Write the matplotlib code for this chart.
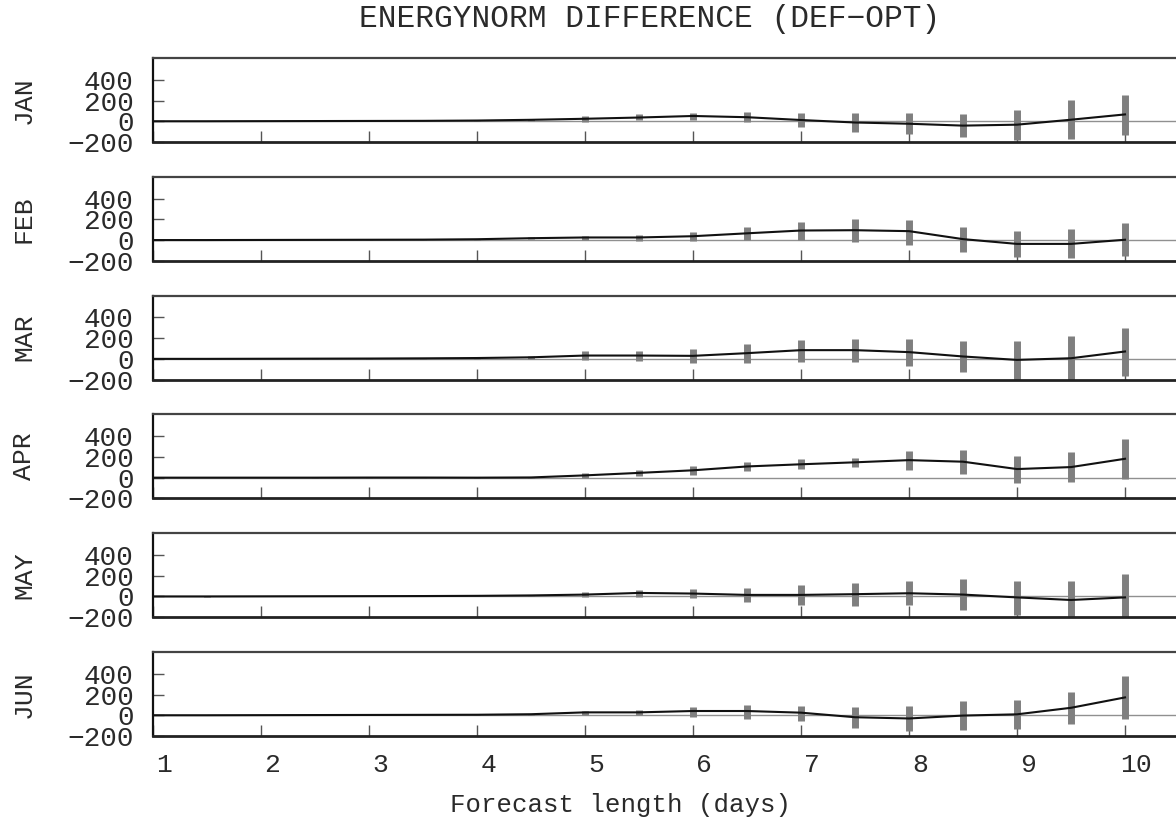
import matplotlib
matplotlib.use("Agg")
import matplotlib.pyplot as plt
import matplotlib.transforms as mtransforms

plt.rcParams['font.family'] = ['Liberation Mono', 'DejaVu Sans Mono']

days = [1, 1.5, 2, 2.5, 3, 3.5, 4, 4.5, 5, 5.5, 6, 6.5, 7, 7.5, 8, 8.5, 9, 9.5, 10]
months = ["JAN", "FEB", "MAR", "APR", "MAY", "JUN"]

jan_mean = [0, 0, 1, 2, 3, 4, 7, 14, 24, 36, 51, 39, 12, -12, -24, -42, -33, 15, 66]
jan_hi = [0, 1, 2, 4, 5, 7, 12, 24, 51, 66, 84, 87, 75, 75, 75, 66, 111, 204, 258]
jan_lo = [0, -1, 0, 0, 1, 1, 2, 4, -3, 9, 9, -6, -54, -99, -120, -153, -180, -174, -129]

feb_mean = [0, 0, 1, 2, 3, 4, 8, 18, 25, 25, 37, 65, 92, 95, 86, 9, -37, -37, 3]
feb_hi = [0, 1, 2, 4, 6, 8, 14, 28, 43, 52, 77, 123, 173, 200, 197, 129, 92, 102, 166]
feb_lo = [0, -1, 0, 0, 0, 0, 2, 8, 0, -6, -9, -3, 3, -15, -52, -111, -163, -172, -157]

mar_mean = [0, 0, 1, 2, 3, 5, 8, 15, 32, 32, 29, 55, 84, 84, 65, 23, -10, 6, 71]
mar_hi = [0, 1, 2, 4, 6, 9, 15, 28, 74, 74, 94, 142, 184, 190, 190, 171, 174, 216, 294]
mar_lo = [0, -1, 0, 0, 0, 1, 1, 2, -10, -16, -36, -39, -26, -29, -71, -129, -200, -200, -161]

apr_mean = [0, 0, 0, 0, 1, 1, 0, 2, 22, 46, 71, 108, 129, 148, 169, 154, 83, 102, 182]
apr_hi = [0, 1, 1, 2, 3, 3, 3, 8, 43, 77, 108, 151, 179, 194, 256, 271, 209, 246, 370]
apr_lo = [0, -1, -1, -1, -1, -1, -2, -3, 0, 15, 28, 62, 80, 99, 77, 31, -49, -46, -9]

may_mean = [0, 0, 1, 2, 3, 4, 6, 10, 18, 34, 28, 15, 15, 22, 31, 18, -9, -34, -9]
may_hi = [0, 1, 2, 4, 6, 8, 11, 18, 40, 65, 71, 86, 111, 126, 145, 169, 145, 151, 216]
may_lo = [0, -1, 0, 0, 0, 0, 1, 2, -3, -3, -15, -52, -83, -89, -86, -129, -175, -200, -200]

jun_mean = [0, 0, 1, 2, 3, 4, 5, 10, 28, 28, 41, 41, 25, -19, -31, -3, 9, 72, 172]
jun_hi = [0, 1, 2, 4, 5, 7, 9, 16, 44, 53, 75, 97, 94, 78, 94, 137, 150, 225, 381]
jun_lo = [0, -1, 0, 0, 1, 1, 1, 4, 6, 0, -16, -34, -53, -119, -153, -144, -137, -84, -37]

means = [jan_mean, feb_mean, mar_mean, apr_mean, may_mean, jun_mean]
his = [jan_hi, feb_hi, mar_hi, apr_hi, may_hi, jun_hi]
los = [jan_lo, feb_lo, mar_lo, apr_lo, may_lo, jun_lo]

yticks = [-200, 0, 200, 400]
xticks = [1, 2, 3, 4, 5, 6, 7, 8, 9, 10]

W, H = 1176, 823
fig = plt.figure(figsize=(W / 100, H / 100), dpi=100)

left_px = 153
top0 = 58
step = 118.8
hgt = 84
txt = '#2a2a2a'

for i, m in enumerate(months):
    top = top0 + step * i
    ax = fig.add_axes([left_px / W, 1 - (top + hgt) / H, 1 - left_px / W, hgt / H])
    ax.axhline(0, color='#909090', lw=1.0, zorder=1)
    ax.vlines(days, los[i], his[i], color='#7f7f7f', lw=5, zorder=2)
    ax.plot(days, means[i], color='#111111', lw=1.5, zorder=3)
    ax.set_xlim(1, 1 + (W - left_px) / 108.0)
    ax.set_ylim(-200, 610)
    ax.set_yticks(yticks)
    ax.set_yticklabels([str(v).replace('-', '\u2212') for v in yticks])
    ax.set_xticks(xticks)
    ax.tick_params(axis='y', direction='in', length=8, width=1, color='#555555',
                   labelsize=20, pad=14, labelcolor=txt)
    ax.tick_params(axis='x', direction='in', length=8, width=1, color='#555555',
                   labelsize=19, pad=12, labelcolor=txt)
    ax.spines['right'].set_visible(False)
    ax.spines['top'].set_color('#444444')
    ax.spines['top'].set_linewidth(1.6)
    ax.spines['left'].set_color('#111111')
    ax.spines['left'].set_linewidth(1.6)
    ax.spines['bottom'].set_color('#222222')
    ax.spines['bottom'].set_linewidth(2)
    if i < len(months) - 1:
        ax.set_xticklabels([])
    else:
        off = mtransforms.ScaledTranslation(8 / 72, 0, fig.dpi_scale_trans)
        for lab in ax.get_xticklabels():
            lab.set_transform(lab.get_transform() + off)
    fig.text(24 / W, 1 - (top + hgt / 2) / H, m, rotation=90, ha='center', va='center',
             fontsize=19, color=txt)

fig.text(621 / W, 1 - 805 / H, "Forecast length (days)", ha='center', va='center',
         fontsize=18.5, color=txt)
fig.text(650 / W, 1 - 19 / H, "ENERGYNORM DIFFERENCE (DEF\u2212OPT)", ha='center', va='center',
         fontsize=22.5, color=txt)

fig.savefig("out.png", dpi=100)
